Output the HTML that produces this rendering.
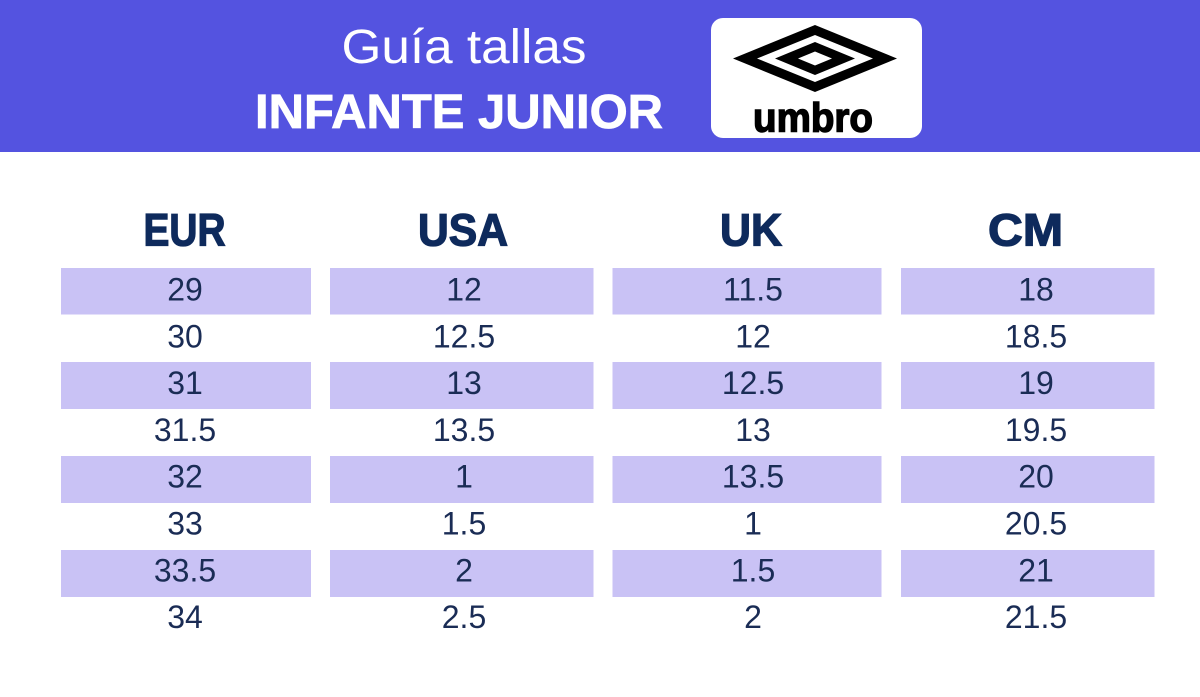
<!DOCTYPE html>
<html>
<head>
<meta charset="utf-8">
<style>
  html, body { margin: 0; padding: 0; background: #ffffff; }
  body { width: 1200px; height: 697px; overflow: hidden; }
  svg { display: block; }
  .num { font-family: "Liberation Sans", sans-serif; font-size: 32px; fill: #1a2c55; }
  .hd { font-family: "Liberation Sans", sans-serif; font-weight: bold; font-size: 45px; fill: #0e2a5c; stroke: #0e2a5c; stroke-width: 1.3; }
</style>
</head>
<body>
<svg width="1200" height="697" viewBox="0 0 1200 697" xmlns="http://www.w3.org/2000/svg">
  <rect x="0" y="0" width="1200" height="697" fill="#ffffff"/>
  <!-- header band -->
  <rect x="0" y="0" width="1200" height="152" fill="#5453e0"/>
  <text x="341.5" y="63" font-family="'Liberation Sans', sans-serif" font-size="48" fill="#ffffff" textLength="245" lengthAdjust="spacingAndGlyphs">Guía tallas</text>
  <text x="255" y="128" font-family="'Liberation Sans', sans-serif" font-weight="bold" font-size="48" fill="#ffffff" stroke="#ffffff" stroke-width="0.8" textLength="408" lengthAdjust="spacingAndGlyphs">INFANTE JUNIOR</text>

  <!-- logo -->
  <rect x="711" y="18" width="211" height="120" rx="12" ry="12" fill="#ffffff"/>
  <polygon points="733,58.5 815,25 897,58.5 815,92" fill="#000000"/>
  <polygon points="757,58.5 815,35 873,58.5 815,82" fill="#ffffff"/>
  <polygon points="775,58.5 815,42 855,58.5 815,75" fill="#000000"/>
  <polygon points="798,58.5 815,51.5 832,58.5 815,65.5" fill="#ffffff"/>
  <text x="753" y="131.5" font-family="'Liberation Sans', sans-serif" font-weight="bold" font-size="41" fill="#000000" stroke="#000000" stroke-width="1.4" textLength="120" lengthAdjust="spacingAndGlyphs">umbro</text>

  <!-- column headers -->
  <text class="hd" x="143.5" y="245.5" textLength="82" lengthAdjust="spacingAndGlyphs">EUR</text>
  <text class="hd" x="418" y="245.5" textLength="90" lengthAdjust="spacingAndGlyphs">USA</text>
  <text class="hd" x="720" y="245.5" textLength="62" lengthAdjust="spacingAndGlyphs">UK</text>
  <text class="hd" x="988" y="245.5" textLength="75" lengthAdjust="spacingAndGlyphs">CM</text>

  <!-- shaded bands -->
  <g fill="#c9c2f5">
    <rect x="61" y="268" width="250" height="46.5"/>
    <rect x="330" y="268" width="263.5" height="46.5"/>
    <rect x="612.5" y="268" width="269" height="46.5"/>
    <rect x="901" y="268" width="253.5" height="46.5"/>

    <rect x="61" y="362" width="250" height="47"/>
    <rect x="330" y="362" width="263.5" height="47"/>
    <rect x="612.5" y="362" width="269" height="47"/>
    <rect x="901" y="362" width="253.5" height="47"/>

    <rect x="61" y="456" width="250" height="47"/>
    <rect x="330" y="456" width="263.5" height="47"/>
    <rect x="612.5" y="456" width="269" height="47"/>
    <rect x="901" y="456" width="253.5" height="47"/>

    <rect x="61" y="550" width="250" height="47"/>
    <rect x="330" y="550" width="263.5" height="47"/>
    <rect x="612.5" y="550" width="269" height="47"/>
    <rect x="901" y="550" width="253.5" height="47"/>
  </g>

  <!-- EUR -->
  <g class="num" text-anchor="middle">
    <text x="185" y="300.5">29</text>
    <text x="185" y="347.3">30</text>
    <text x="185" y="394.1">31</text>
    <text x="185" y="440.9">31.5</text>
    <text x="185" y="487.7">32</text>
    <text x="185" y="534.5">33</text>
    <text x="185" y="581.3">33.5</text>
    <text x="185" y="628.1">34</text>
  </g>
  <!-- USA -->
  <g class="num" text-anchor="middle">
    <text x="464" y="300.5">12</text>
    <text x="464" y="347.3">12.5</text>
    <text x="464" y="394.1">13</text>
    <text x="464" y="440.9">13.5</text>
    <text x="464" y="487.7">1</text>
    <text x="464" y="534.5">1.5</text>
    <text x="464" y="581.3">2</text>
    <text x="464" y="628.1">2.5</text>
  </g>
  <!-- UK -->
  <g class="num" text-anchor="middle">
    <text x="753" y="300.5">11.5</text>
    <text x="753" y="347.3">12</text>
    <text x="753" y="394.1">12.5</text>
    <text x="753" y="440.9">13</text>
    <text x="753" y="487.7">13.5</text>
    <text x="753" y="534.5">1</text>
    <text x="753" y="581.3">1.5</text>
    <text x="753" y="628.1">2</text>
  </g>
  <!-- CM -->
  <g class="num" text-anchor="middle">
    <text x="1036" y="300.5">18</text>
    <text x="1036" y="347.3">18.5</text>
    <text x="1036" y="394.1">19</text>
    <text x="1036" y="440.9">19.5</text>
    <text x="1036" y="487.7">20</text>
    <text x="1036" y="534.5">20.5</text>
    <text x="1036" y="581.3">21</text>
    <text x="1036" y="628.1">21.5</text>
  </g>
</svg>
</body>
</html>
